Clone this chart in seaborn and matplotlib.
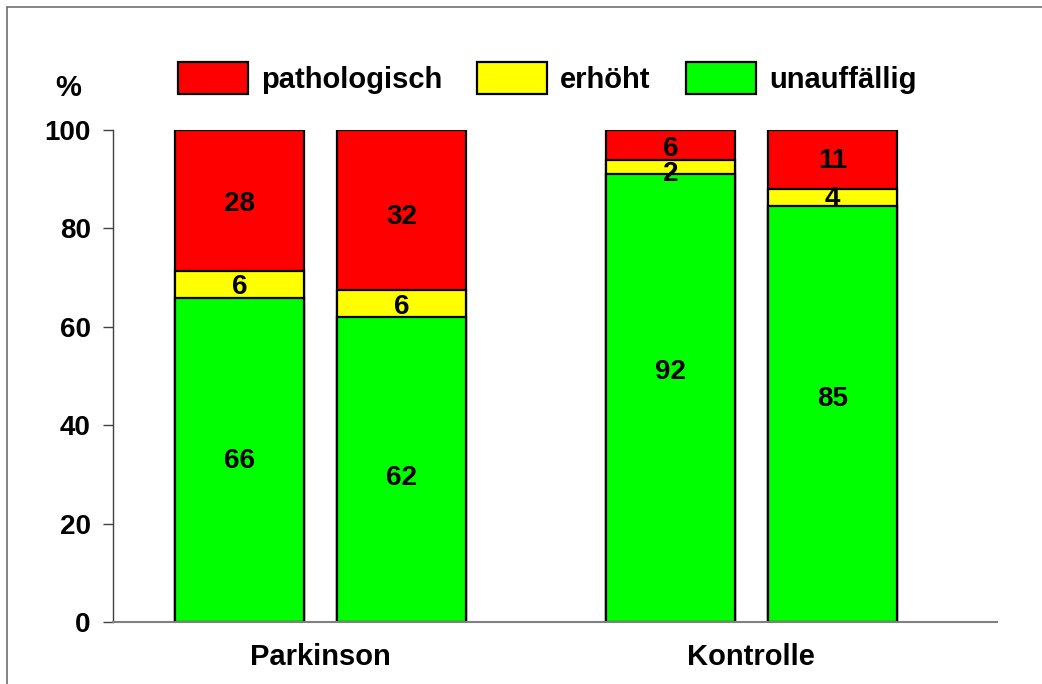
import matplotlib
matplotlib.use("Agg")
import matplotlib.pyplot as plt
import pandas as pd
import seaborn as sns

# data
positions = [0, 1, 2.66, 3.66]
groups = ["Parkinson", "Kontrolle"]
group_pos = [0.5, 3.16]
categories = ["pathologisch", "erhöht", "unauffällig"]
colors = ["#ff0000", "#ffff00", "#00ff00"]

# drawn segment heights (%)
green = [65.8, 61.9, 91.1, 84.6]
yellow = [5.5, 5.6, 2.8, 3.5]
red = [28.7, 32.5, 6.1, 11.9]

# printed labels and where they sit (% axis)
green_lbl = ["66", "62", "92", "85"]
yellow_lbl = ["6", "6", "2", "4"]
red_lbl = ["28", "32", "6", "11"]
green_lbl_y = [33.1, 29.7, 51.3, 45.8]
yellow_lbl_y = [68.5, 64.4, 91.4, 86.3]
red_lbl_y = [85.4, 82.7, 96.5, 94.0]

sns.set_style("white")
plt.rcParams["font.family"] = ["Liberation Sans", "DejaVu Sans"]
plt.rcParams["font.weight"] = "bold"
plt.rcParams["text.color"] = "black"
plt.rcParams["xtick.color"] = "black"
plt.rcParams["ytick.color"] = "black"

fig = plt.figure(figsize=(10.42, 6.84), dpi=100)
ax = fig.add_axes([113 / 1042, 1 - 622 / 684, (997 - 113) / 1042, (622 - 130) / 684])

df = pd.DataFrame({"pos": positions, "green": green, "yellow": yellow, "red": red})
df["cum_g"] = df["green"]
df["cum_y"] = df["green"] + df["yellow"]
df["cum_r"] = df["cum_y"] + df["red"]

for col, c in [("cum_r", colors[0]), ("cum_y", colors[1]), ("cum_g", colors[2])]:
    sns.barplot(data=df, x="pos", y=col, native_scale=True, orient="x", width=0.8,
                color=c, edgecolor="black", linewidth=1.6, saturation=1,
                errorbar=None, ax=ax)

for i, p in enumerate(positions):
    for lbl, ly in [(green_lbl[i], green_lbl_y[i]), (yellow_lbl[i], yellow_lbl_y[i]),
                    (red_lbl[i], red_lbl_y[i])]:
        ax.text(p, ly - 0.4, lbl, ha="center", va="center", fontsize=20, fontweight="bold")

ax.set_xlim(-0.781, 4.676)
ax.set_ylim(0, 100)
ax.set_yticks([0, 20, 40, 60, 80, 100])
ax.set_yticklabels(["0", "20", "40", "60", "80", "100"], fontsize=20, fontweight="bold")
ax.set_xticks(group_pos)
ax.set_xticklabels(groups, fontsize=21, fontweight="bold")
ax.tick_params(axis="x", length=0, pad=15)
ax.tick_params(axis="y", left=True, length=7, width=1, color="#404040", pad=9)
ax.set_xlabel("")
ax.set_ylabel("")

for s in ["top", "right"]:
    ax.spines[s].set_visible(False)
ax.spines["left"].set_color("#404040")
ax.spines["left"].set_linewidth(1)
ax.spines["bottom"].set_color("#808080")
ax.spines["bottom"].set_linewidth(1.5)

fig.text(68 / 1042, 1 - 88 / 684, "%", ha="center", va="center",
         fontsize=21, fontweight="bold")

handles = [plt.Rectangle((0, 0), 1, 1, facecolor=c, edgecolor="black", linewidth=1.6)
           for c in colors]
fig.legend(handles, categories, loc="center", bbox_to_anchor=(547 / 1042, 1 - 78 / 684),
           ncol=3, frameon=False, prop={"size": 21, "weight": "bold"},
           handlelength=2.4, handleheight=1.36, handletextpad=0.45, columnspacing=1.2)

# outer frame (top and left edges visible)
fig.add_artist(plt.Line2D([7 / 1042, 7 / 1042], [0, 1 - 7 / 684], color="#707070", linewidth=1.2))
fig.add_artist(plt.Line2D([7 / 1042, 1], [1 - 7 / 684, 1 - 7 / 684], color="#707070", linewidth=1.2))

fig.savefig("out.png", dpi=100)
